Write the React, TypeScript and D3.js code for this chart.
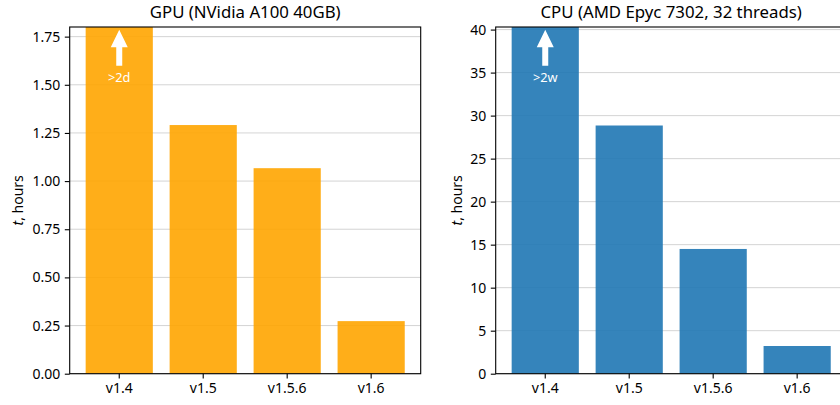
import React, { useEffect, useRef } from 'react'
import { select, scaleBand, scaleLinear, axisBottom, axisLeft } from 'd3'

const versions = ['v1.4', 'v1.5', 'v1.5.6', 'v1.6']
// v1.4 is off the chart (>2 days / >2 weeks), bar gets clipped at the top
const gpuHours = [48, 1.291, 1.067, 0.273]
const cpuHours = [336, 28.85, 14.5, 3.22]
const gpuTicks = [0, 0.25, 0.5, 0.75, 1.0, 1.25, 1.5, 1.75]
const cpuTicks = [0, 5, 10, 15, 20, 25, 30, 35, 40]
const gpuTitle = 'GPU (NVidia A100 40GB)'
const cpuTitle = 'CPU (AMD Epyc 7302, 32 threads)'
const offLabels = ['>2d', '>2w']

const FONT = '"Noto Sans", "DejaVu Sans", sans-serif'

const App = () => {
  const svgRef = useRef()

  useEffect(() => {
    const svg = select(svgRef.current)
    svg.selectAll('*').remove()

    const top = 27
    const bottom = 373.7
    const panels = [
      { left: 69.7, values: gpuHours, ticks: gpuTicks, ymax: 1.8, fmt: d => d.toFixed(2), color: '#ffa500', title: gpuTitle, label: offLabels[0], labelOff: 46.5 },
      { left: 495.7, values: cpuHours, ticks: cpuTicks, ymax: 40.3, fmt: d => String(d), color: '#1f77b4', title: cpuTitle, label: offLabels[1], labelOff: 34 },
    ]

    panels.forEach((p, i) => {
      const width = 351
      const x = scaleBand().domain(versions).range([p.left, p.left + width]).paddingInner(0.2).paddingOuter(0.19)
      const y = scaleLinear().domain([0, p.ymax]).range([bottom, top])

      const g = svg.append('g')
      const clipId = 'clip' + i
      g.append('clipPath').attr('id', clipId)
        .append('rect').attr('x', p.left).attr('y', top).attr('width', width).attr('height', bottom - top)

      // grid
      g.append('g').selectAll('line').data(p.ticks).join('line')
        .attr('x1', p.left).attr('x2', p.left + width)
        .attr('y1', d => y(d)).attr('y2', d => y(d))
        .attr('stroke', '#b0b0b0').attr('stroke-opacity', 0.55).attr('stroke-width', 1)

      // bars
      g.append('g').attr('clip-path', `url(#${clipId})`)
        .selectAll('rect').data(p.values).join('rect')
        .attr('x', (d, j) => x(versions[j]))
        .attr('y', d => y(d))
        .attr('width', x.bandwidth())
        .attr('height', d => bottom - y(d))
        .attr('fill', p.color).attr('fill-opacity', 0.9)

      // off-scale arrow + label on first bar
      const cx = x(versions[0]) + x.bandwidth() / 2
      const ya = scaleLinear().domain([0, 1]).range([bottom, top])
      const tipY = ya(0.992)
      const baseY = ya(0.888)
      const headY = tipY + 17.5
      g.append('path')
        .attr('d', `M${cx},${tipY} L${cx + 8.5},${headY} L${cx + 3},${headY} L${cx + 3},${baseY} L${cx - 3},${baseY} L${cx - 3},${headY} L${cx - 8.5},${headY} Z`)
        .attr('fill', 'white')
      g.append('text').attr('x', cx).attr('y', ya(0.85))
        .attr('text-anchor', 'middle').attr('dominant-baseline', 'middle')
        .attr('fill', 'white').attr('font-size', 12.8).attr('font-family', FONT)
        .text(p.label)

      // axes
      const xAxis = axisBottom(x).tickSizeOuter(0).tickSize(4.9).tickPadding(4.5)
      const xg = g.append('g').attr('transform', `translate(0,${bottom})`).call(xAxis)
      const yAxis = axisLeft(y).tickValues(p.ticks).tickFormat(p.fmt).tickSizeOuter(0).tickSize(4.9).tickPadding(4.5)
      const yg = g.append('g').attr('transform', `translate(${p.left},0)`).call(yAxis)
      ;[xg, yg].forEach(a => {
        a.select('.domain').remove()
        a.selectAll('line').attr('stroke', '#000').attr('stroke-width', 1.1)
        a.selectAll('text').attr('font-size', 14).attr('font-family', FONT).attr('fill', '#000')
      })

      // spines
      g.append('rect').attr('x', p.left).attr('y', top).attr('width', width).attr('height', bottom - top)
        .attr('fill', 'none').attr('stroke', '#000').attr('stroke-width', 1.1)

      // title
      g.append('text').attr('x', p.left + width / 2).attr('y', 18)
        .attr('text-anchor', 'middle').attr('font-size', 16.8).attr('font-family', FONT).attr('fill', '#000')
        .text(p.title)

      // y label
      const lbl = g.append('text')
        .attr('transform', `translate(${p.left - p.labelOff},${(top + bottom) / 2}) rotate(-90)`)
        .attr('text-anchor', 'middle').attr('font-size', 14).attr('font-family', FONT).attr('fill', '#000')
      lbl.append('tspan').attr('font-style', 'italic').text('t')
      lbl.append('tspan').text(', hours')
    })
  }, [])

  return (
    <svg ref={svgRef} width="840" height="405" style={{ position: 'absolute', left: 0, top: 0, background: 'white' }} />
  )
}

export default App
